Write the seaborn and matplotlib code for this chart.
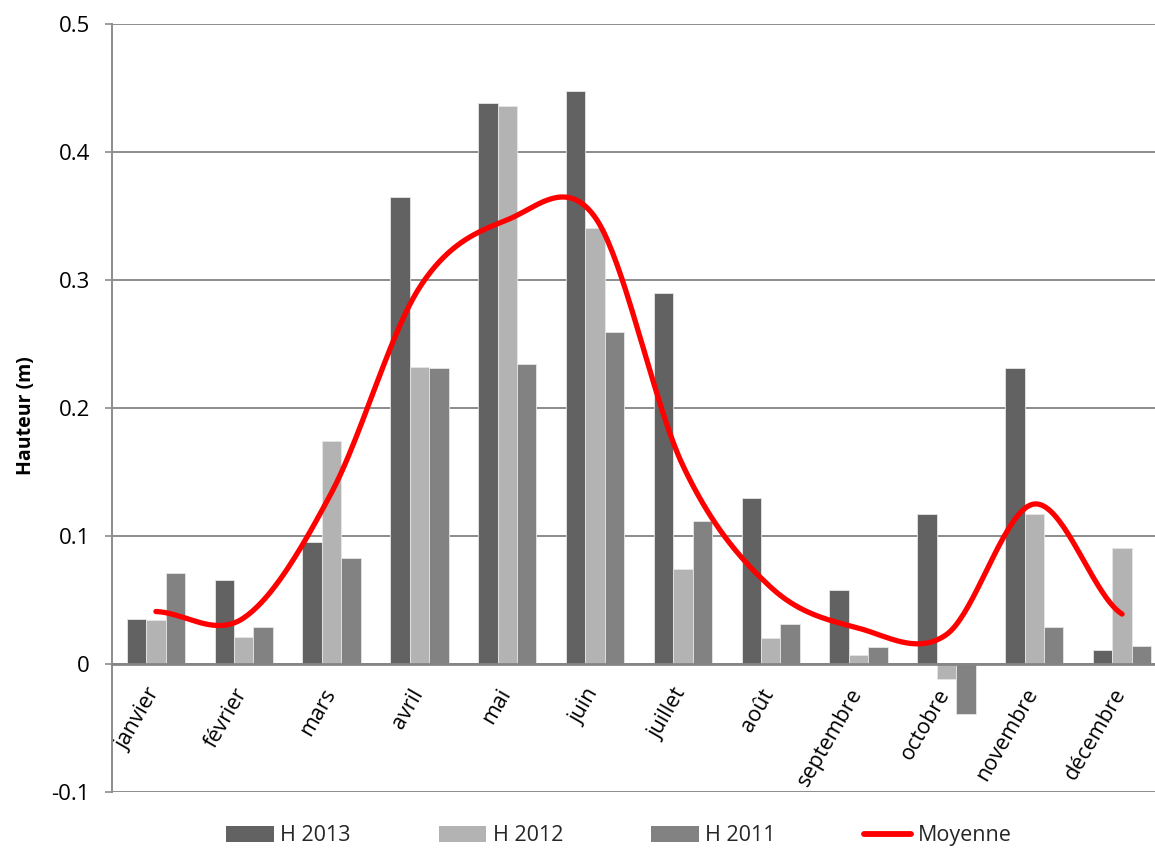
import numpy as np
import pandas as pd
import matplotlib
matplotlib.use("Agg")
import matplotlib.pyplot as plt
import matplotlib.transforms as mtransforms
from matplotlib.lines import Line2D
from matplotlib.patches import Patch
import seaborn as sns

# Monthly water height values (m)
months = ["janvier", "février", "mars", "avril", "mai", "juin", "juillet",
          "août", "septembre", "octobre", "novembre", "décembre"]
h2013 = [0.035, 0.066, 0.095, 0.365, 0.438, 0.448, 0.290, 0.130, 0.058, 0.117, 0.231, 0.011]
h2012 = [0.034, 0.021, 0.174, 0.232, 0.436, 0.341, 0.074, 0.020, 0.007, -0.012, 0.117, 0.091]
h2011 = [0.071, 0.029, 0.083, 0.231, 0.234, 0.259, 0.112, 0.031, 0.013, -0.039, 0.029, 0.014]
moyenne = [0.041, 0.036, 0.134, 0.294, 0.347, 0.349, 0.155, 0.060, 0.028, 0.023, 0.125, 0.039]

series_names = ["H 2013", "H 2012", "H 2011"]
series_colors = ["#626262", "#b3b3b3", "#828282"]
y_ticks = [-0.1, 0, 0.1, 0.2, 0.3, 0.4, 0.5]
y_tick_labels = ["-0.1", "0", "0.1", "0.2", "0.3", "0.4", "0.5"]

df = pd.DataFrame({
    "mois": months * 3,
    "hauteur": h2013 + h2012 + h2011,
    "serie": [n for n in series_names for _ in months],
})

sns.set_theme(style="white")
plt.rcParams["font.family"] = ["Open Sans", "DejaVu Sans"]

fig = plt.figure(figsize=(11.55, 8.5), dpi=100)
ax = fig.add_axes([112 / 1155, 1 - 792 / 850, (1166 - 112) / 1155, (792 - 24) / 850])

grid_col = "#8c8c8c"
ax.set_ylim(-0.1, 0.5)
ax.set_yticks(y_ticks)
ax.yaxis.grid(True, color=grid_col, linewidth=1.4)
ax.set_axisbelow(True)

sns.barplot(data=df, x="mois", y="hauteur", hue="serie", order=months,
            hue_order=series_names, palette=series_colors, width=0.665,
            edgecolor="#e6e6e6", linewidth=0.6, legend=False, ax=ax,
            errorbar=None, saturation=1)

# Smoothed average curve (Catmull-Rom spline through the monthly means)
def catmull_rom(values, n=40):
    p = np.asarray(values, dtype=float)
    pts = np.concatenate([[p[0]], p, [p[-1]]])
    xs, ys = [], []
    for i in range(len(p) - 1):
        p0, p1, p2, p3 = pts[i], pts[i + 1], pts[i + 2], pts[i + 3]
        m1 = (p2 - p0) / 2
        m2 = (p3 - p1) / 2
        t = np.linspace(0, 1, n, endpoint=(i == len(p) - 2))
        h00 = 2 * t**3 - 3 * t**2 + 1
        h10 = t**3 - 2 * t**2 + t
        h01 = -2 * t**3 + 3 * t**2
        h11 = t**3 - t**2
        xs.append(i + t)
        ys.append(h00 * p1 + h10 * m1 + h01 * p2 + h11 * m2)
    return np.concatenate(xs), np.concatenate(ys)

sx, sy = catmull_rom(moyenne)
sns.lineplot(x=sx, y=sy, sort=False, color="#ff0000", linewidth=3.8, ax=ax,
             solid_capstyle="round", zorder=5)

ax.set_xlim(-0.5, len(months) - 0.5)
ax.set_yticklabels(y_tick_labels)
ax.set_xlabel("")
ax.set_ylabel("Hauteur (m)", fontsize=14, fontweight="bold", color="black")
ax.yaxis.set_label_coords(-0.072, 0.49)

for side in ["top", "right"]:
    ax.spines[side].set_visible(False)
ax.spines["left"].set_color(grid_col)
ax.spines["left"].set_linewidth(1.4)
ax.spines["bottom"].set_position(("data", 0))
ax.spines["bottom"].set_color("#858585")
ax.spines["bottom"].set_linewidth(2)

ax.tick_params(axis="y", left=True, length=5, width=1.2, color=grid_col,
               labelsize=16, pad=11, labelcolor="black")
ax.tick_params(axis="x", bottom=False, labelsize=15.5, pad=9, labelcolor="black")
offset = mtransforms.ScaledTranslation(8 / 100, 0, fig.dpi_scale_trans)
for lab in ax.get_xticklabels():
    lab.set_rotation(60)
    lab.set_ha("right")
    lab.set_va("top")
    lab.set_transform(lab.get_transform() + offset)

handles = [Patch(facecolor=c, edgecolor="none") for c in series_colors]
handles.append(Line2D([0], [0], color="#ff0000", linewidth=4.2, solid_capstyle="round"))
fig.legend(handles, series_names + ["Moyenne"], loc="center",
           bbox_to_anchor=(0.536, 0.0165), ncol=4, frameon=False,
           prop={"size": 15.5},
           handlelength=2.2, handleheight=0.75, handletextpad=0.3, columnspacing=4.1,
           borderaxespad=0, borderpad=0)

fig.savefig("out.png", dpi=100)
